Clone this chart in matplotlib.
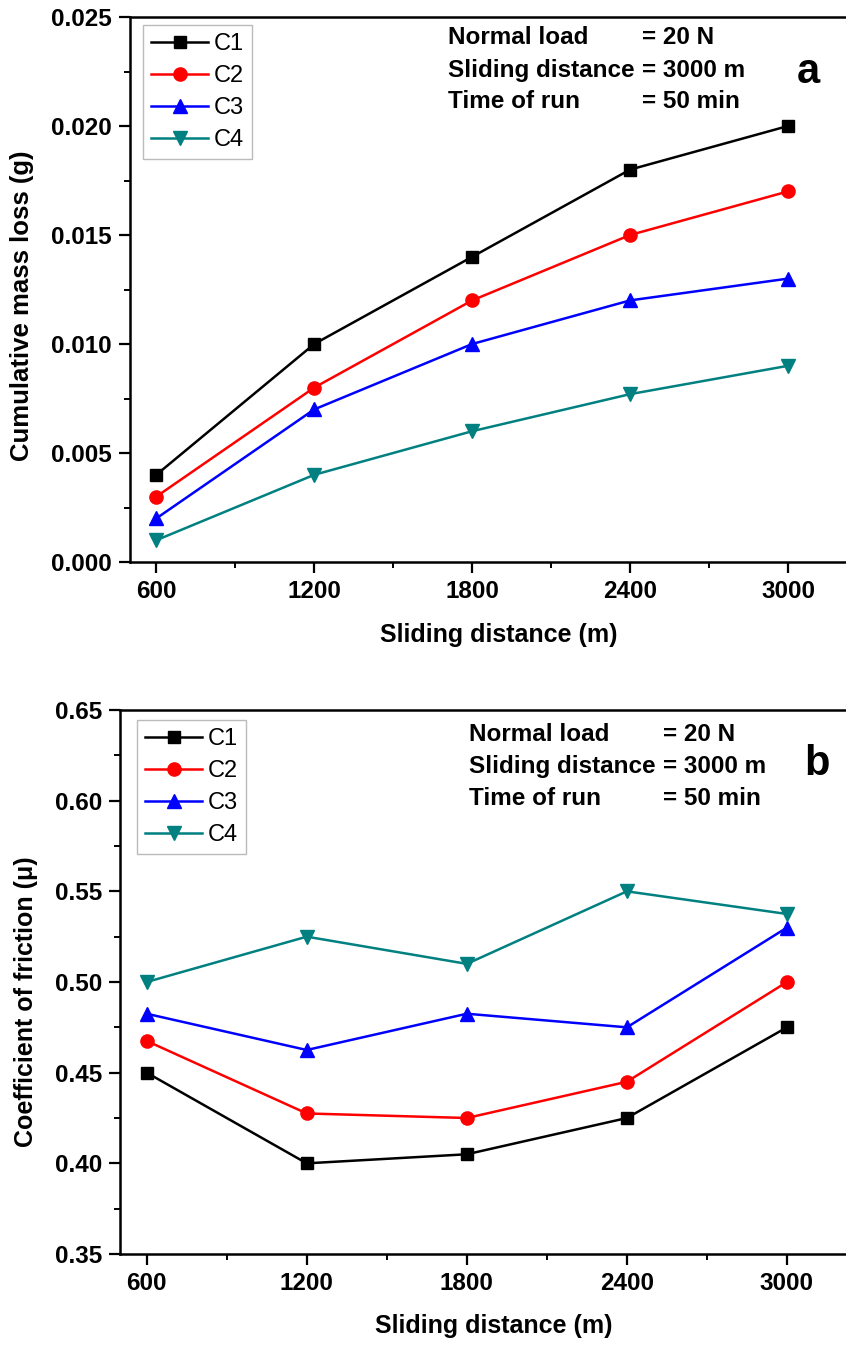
import numpy as np
import matplotlib
matplotlib.use("Agg")
import matplotlib.pyplot as plt
from matplotlib.ticker import MultipleLocator, FormatStrFormatter

plt.rcParams["font.family"] = ["Liberation Sans", "DejaVu Sans"]

# sliding distance (m)
distance = [600, 1200, 1800, 2400, 3000]
labels = ["C1", "C2", "C3", "C4"]

# cumulative mass loss (g)
mass_c1 = [0.004, 0.010, 0.014, 0.018, 0.020]
mass_c2 = [0.003, 0.008, 0.012, 0.015, 0.017]
mass_c3 = [0.002, 0.007, 0.010, 0.012, 0.013]
mass_c4 = [0.001, 0.004, 0.006, 0.0077, 0.009]

# coefficient of friction
cof_c1 = [0.450, 0.400, 0.405, 0.425, 0.475]
cof_c2 = [0.4675, 0.4275, 0.425, 0.445, 0.500]
cof_c3 = [0.4825, 0.4625, 0.4825, 0.475, 0.530]
cof_c4 = [0.500, 0.525, 0.510, 0.550, 0.5375]

colors = ["black", "#ff0000", "#0000ff", "#008080"]
markers = ["s", "o", "^", "v"]
msizes = [8, 9.5, 10, 10]

W, H = 846, 1345
fig = plt.figure(figsize=(W / 100, H / 100), dpi=100)


def px_axes(left, top, width, height):
    return fig.add_axes([left / W, 1 - (top + height) / H, width / W, height / H])


def style(ax, ylim, ymaj, yfmt, ylabel, ylab_xy, ylab_size):
    ax.set_xlim(500, 3300)
    ax.set_ylim(*ylim)
    ax.xaxis.set_major_locator(MultipleLocator(600))
    ax.xaxis.set_minor_locator(MultipleLocator(300))
    ax.yaxis.set_major_locator(MultipleLocator(ymaj))
    ax.yaxis.set_minor_locator(MultipleLocator(ymaj / 2))
    ax.yaxis.set_major_formatter(FormatStrFormatter(yfmt))
    ax.tick_params(which="major", direction="out", length=8, width=1.6,
                   labelsize=17.5, pad=5, top=False, right=False)
    ax.tick_params(which="minor", direction="out", length=4.5, width=1.4,
                   top=False, right=False)
    for lab in ax.get_xticklabels() + ax.get_yticklabels():
        lab.set_fontweight("bold")
    for sp in ax.spines.values():
        sp.set_linewidth(1.8)
    ax.set_xlabel("Sliding distance (m)", fontsize=18, fontweight="bold", labelpad=14)
    ax.set_ylabel(ylabel, fontsize=ylab_size, fontweight="bold")
    ax.yaxis.set_label_coords(*ylab_xy)


def conditions(ax, x_left, x_eq, ys, letter, letter_xy):
    rows = [("Normal load", "= 20 N"),
            ("Sliding distance", "= 3000 m"),
            ("Time of run", "= 50 min")]
    for (name, val), y in zip(rows, ys):
        ax.text(x_left, y, name, transform=ax.transAxes, fontsize=17.5,
                fontweight="bold", va="center", ha="left")
        ax.text(x_eq, y, val, transform=ax.transAxes, fontsize=17.5,
                fontweight="bold", va="center", ha="left")
    ax.text(*letter_xy, letter, transform=ax.transAxes, fontsize=30,
            fontweight="bold", va="center", ha="center")


def panel(ax, series, anchor):
    for vals, lab, c, m, ms in zip(series, labels, colors, markers, msizes):
        ax.plot(distance, vals, color=c, marker=m, markersize=ms, lw=1.8,
                label=lab, clip_on=False, zorder=3)
    leg = ax.legend(loc="upper left", bbox_to_anchor=anchor, borderaxespad=0,
                    fontsize=17, handlelength=2.4, handletextpad=0.25,
                    borderpad=0.35, labelspacing=0.42, fancybox=False,
                    framealpha=1, edgecolor="#bbbbbb")
    leg.get_frame().set_linewidth(1.0)


# panel a: cumulative mass loss
axA = px_axes(130, 17, 737, 545)
panel(axA, [mass_c1, mass_c2, mass_c3, mass_c4], (0.0176, 0.985))
style(axA, (0, 0.025), 0.005, "%.3f", "Cumulative mass loss (g)",
      (-0.130, 0.47), 18.5)
conditions(axA, 0.431, 0.695, [0.963, 0.902, 0.845], "a", (0.92, 0.9))

# panel b: coefficient of friction
axB = px_axes(120, 710, 747, 544)
panel(axB, [cof_c1, cof_c2, cof_c3, cof_c4], (0.0228, 0.982))
style(axB, (0.35, 0.65), 0.05, "%.2f", "Coefficient of friction (\u03bc)",
      (-0.110, 0.464), 18)
conditions(axB, 0.467, 0.727, [0.955, 0.897, 0.838], "b", (0.933, 0.9))

fig.savefig("out.png", dpi=100)
